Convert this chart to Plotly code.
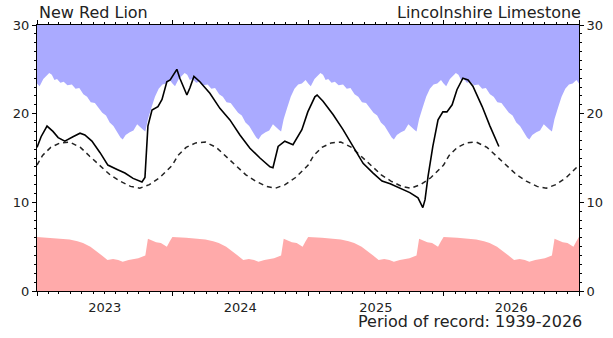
import plotly.graph_objects as go

font = 'DejaVu Sans'
blue = '#aaaaff'
red = '#ffaaaa'

years = [2023, 2024, 2025, 2026]

# historical maximum level by day of year (month-day, m)
max_days = ['01-01', '01-08', '01-18', '01-26', '02-03', '02-10', '02-17', '02-24',
            '03-05', '03-14', '03-24', '04-05', '04-15', '04-25', '05-06', '05-16',
            '05-26', '06-06', '06-16', '06-26', '07-06', '07-16', '07-26', '08-05',
            '08-14', '08-20', '08-28', '09-08', '09-18', '09-28', '10-05', '10-14',
            '10-20', '10-27', '11-05', '11-15', '11-25', '12-05', '12-15', '12-25']
max_vals = [23.4, 23.1, 23.9, 24.3, 24.6, 24.4, 23.8, 23.9,
            23.5, 23.6, 23.2, 23.3, 22.8, 22.9, 22.2, 21.9,
            21.3, 21.2, 20.6, 20.1, 19.8, 19.0, 18.6, 17.9,
            17.3, 17.1, 17.6, 17.9, 18.1, 18.8, 18.5, 18.2,
            18.0, 19.4, 20.6, 21.9, 22.8, 23.3, 23.4, 23.8]

# historical minimum level by day of year
min_days = ['01-01', '02-07', '03-10', '03-30', '04-20', '05-05', '05-25', '06-11',
            '06-25', '07-10', '07-25', '08-08', '08-20', '09-05', '09-17', '10-01',
            '10-13', '10-20', '10-27', '11-05', '11-18', '12-01', '12-10', '12-17',
            '12-25']
min_vals = [6.1, 6.0, 5.9, 5.8, 5.6, 5.4, 5.0, 4.5,
            4.0, 3.5, 3.6, 3.5, 3.3, 3.5, 3.6, 3.7,
            3.9, 4.0, 5.9, 5.7, 5.5, 5.4, 5.2, 5.0,
            5.6]

# long term average level by day of year
avg_days = ['01-01', '01-16', '02-07', '03-04', '03-30', '04-28', '05-23', '06-22',
            '07-17', '08-12', '09-10', '10-05', '10-31', '11-28', '12-20']
avg_vals = [14.2, 15.3, 16.2, 16.7, 16.8, 16.2, 15.2, 14.0,
            13.1, 12.4, 11.8, 11.6, 12.0, 12.8, 13.7]

# observed groundwater level
level_dates = ['2023-01-01', '2023-01-12', '2023-01-28', '2023-02-13', '2023-02-27',
               '2023-03-17', '2023-04-08', '2023-04-27', '2023-05-10', '2023-05-29',
               '2023-06-20', '2023-07-11', '2023-08-05', '2023-08-26', '2023-09-17',
               '2023-10-11', '2023-10-19', '2023-10-23', '2023-10-27', '2023-11-07',
               '2023-11-23', '2023-12-04', '2023-12-17', '2023-12-26', '2024-01-03',
               '2024-01-13', '2024-01-21', '2024-02-09', '2024-02-17', '2024-02-28',
               '2024-03-15', '2024-04-11', '2024-05-08', '2024-06-04', '2024-07-01',
               '2024-07-28', '2024-08-24', '2024-09-20', '2024-09-28', '2024-10-12',
               '2024-10-30', '2024-11-21', '2024-12-15', '2024-12-31', '2025-01-19',
               '2025-01-25', '2025-02-10', '2025-03-09', '2025-04-05', '2025-05-02',
               '2025-05-29', '2025-06-25', '2025-07-19', '2025-08-10', '2025-09-06',
               '2025-10-02', '2025-10-24', '2025-11-06', '2025-11-12', '2025-11-20',
               '2025-12-03', '2025-12-17', '2025-12-30', '2026-01-10', '2026-01-24',
               '2026-02-06', '2026-02-22', '2026-03-08', '2026-03-21', '2026-04-15',
               '2026-05-06', '2026-05-30']
level_vals = [16.2, 17.4, 18.6, 18.0, 17.3,
              16.9, 17.4, 17.8, 17.6, 16.9,
              15.6, 14.2, 13.7, 13.3, 12.7,
              12.3, 12.8, 15.5, 18.6, 20.4,
              20.8, 21.6, 23.6, 23.8, 24.4,
              25.0, 24.0, 22.1, 22.9, 24.2,
              23.6, 22.3, 20.6, 19.3, 17.6,
              16.1, 15.0, 14.0, 13.9, 16.3,
              16.9, 16.5, 18.2, 20.2, 21.9,
              22.1, 21.4, 19.9, 18.2, 16.3,
              14.4, 13.3, 12.4, 12.1, 11.6,
              11.1, 10.5, 9.4, 10.3, 12.9,
              16.3, 19.3, 20.2, 20.2, 21.0,
              22.7, 24.0, 23.8, 23.1, 20.8,
              18.6, 16.3]


def by_year(days, vals):
    # repeat the day-of-year profile over each year shown
    xs, ys = [], []
    for yr in years:
        for d, v in zip(days, vals):
            xs.append(f'{yr}-{d}')
            ys.append(v)
    xs.append(f'{years[-1] + 1}-{days[0]}')
    ys.append(vals[0])
    return xs, ys


max_x, max_y = by_year(max_days, max_vals)
min_x, min_y = by_year(min_days, min_vals)
avg_x, avg_y = by_year(avg_days, avg_vals)

fig = go.Figure()
fig.add_trace(go.Scatter(x=max_x, y=max_y, mode='lines', line=dict(width=0),
                         fill='tozeroy', fillcolor='white'))
fig.add_trace(go.Scatter(x=min_x, y=min_y, mode='lines', line=dict(width=0),
                         fill='tozeroy', fillcolor=red))
fig.add_trace(go.Scatter(x=avg_x, y=avg_y, mode='lines',
                         line=dict(color='#222222', width=1.5, dash='5px,4px')))
fig.add_trace(go.Scatter(x=level_dates, y=level_vals, mode='lines',
                         line=dict(color='black', width=1.6)))
# empty trace so the right-hand axis is drawn
fig.add_trace(go.Scatter(x=[level_dates[0]], y=[level_vals[0]], yaxis='y2',
                         mode='lines', line=dict(width=0), hoverinfo='skip'))

tick_font = dict(family=font, size=13, color='#222222')
yax = dict(range=[0, 30], dtick=10, showgrid=False, zeroline=False, automargin=False,
           showline=True, linecolor='black', linewidth=1,
           ticks='outside', ticklen=4, tickcolor='black', tickfont=tick_font,
           minor=dict(dtick=1, ticks='outside', ticklen=2, tickcolor='black'))

fig.update_layout(
    width=613, height=338,
    margin=dict(l=37, r=34, t=25, b=47),
    paper_bgcolor='white',
    plot_bgcolor=blue,
    showlegend=False,
    hovermode=False,
    xaxis=dict(range=['2023-01-01', '2027-01-01'], type='date', automargin=False,
               dtick='M12', tick0='2023-01-01', tickformat='%Y',
               ticklabelmode='period', showgrid=False, zeroline=False,
               showline=True, linecolor='black', linewidth=1, mirror='ticks',
               ticks='outside', ticklen=4, tickcolor='black', tickfont=tick_font,
               minor=dict(dtick='M1', ticks='outside', ticklen=2, tickcolor='black')),
    yaxis=yax,
    yaxis2=dict(yax, overlaying='y', side='right'),
    annotations=[
        dict(text='New Red Lion', xref='paper', yref='paper', x=0, y=1,
             xanchor='left', yanchor='bottom', showarrow=False, yshift=1,
             font=dict(family=font, size=16, color='#222222')),
        dict(text='Lincolnshire Limestone', xref='paper', yref='paper', x=1.007, y=1,
             xanchor='right', yanchor='bottom', showarrow=False, yshift=1,
             font=dict(family=font, size=16, color='#222222')),
        dict(text='Period of record: 1939-2026', xref='paper', yref='paper', x=1.007, y=0,
             xanchor='right', yanchor='top', showarrow=False, yshift=-20,
             borderpad=0, font=dict(family=font, size=16, color='#222222')),
    ],
)

# drop the default page margin so the figure fills the window
fig.write_html('out.html', config={'displayModeBar': False},
               post_script="document.body.style.margin='0px';")
